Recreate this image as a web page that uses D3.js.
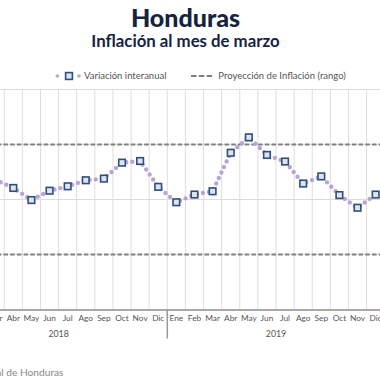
<!DOCTYPE html>
<html>
<head>
<meta charset="utf-8">
<script src="https://cdn.jsdelivr.net/npm/d3@7"></script>
<style>
  html, body { margin: 0; padding: 0; background: #fff; }
  svg { display: block; font-family: Lato, "Noto Sans", sans-serif; }
</style>
</head>
<body>
<svg id="chart" width="380" height="380"></svg>
<script>
// ---- data ----
const years = ["2018", "2019"];
const months = ["Ene","Feb","Mar","Abr","May","Jun","Jul","Ago","Sep","Oct","Nov","Dic"];
const values2018 = [null, null, 4.36, 4.21, 3.99, 4.16, 4.24, 4.35, 4.38, 4.67, 4.70, 4.23];
const values2019 = [3.95, 4.09, 4.15, 4.85, 5.13, 4.81, 4.69, 4.29, 4.42, 4.08, 3.85, 4.09];
const rangeLow = 3.0;
const rangeHigh = 5.0;
const yTicks = [2, 3, 4, 5, 6];
const titleText = "Honduras";
const subtitleText = "Inflación al mes de marzo";
const legendSeries = "Variación interanual";
const legendRange = "Proyección de Inflación (rango)";
const sourceText = "Fuente: Banco Central de Honduras";

// ---- build ----
const data = [];
years.forEach((yr, i) => {
  const vals = i === 0 ? values2018 : values2019;
  months.forEach((m, j) => data.push({ key: yr + "-" + m, year: yr, month: m, v: vals[j] }));
});

const svg = d3.select("#chart");
const x = d3.scaleBand().domain(data.map(d => d.key)).range([-50.1, 384.7]).padding(0);
const y = d3.scaleLinear().domain([2, 6]).range([309.5, 89.5]);

const plotTop = y(6), plotBottom = y(2);

// horizontal gridlines
svg.append("g").selectAll("line").data(yTicks).join("line")
  .attr("x1", x.range()[0]).attr("x2", x.range()[1])
  .attr("y1", d => y(d)).attr("y2", d => y(d))
  .attr("stroke", "#dcdcdc").attr("stroke-width", 1);

// vertical gridlines at category boundaries
const bounds = data.map(d => x(d.key)).concat([x.range()[1]]);
svg.append("g").selectAll("line").data(bounds).join("line")
  .attr("x1", d => d).attr("x2", d => d)
  .attr("y1", plotTop).attr("y2", plotBottom)
  .attr("stroke", "#dedede").attr("stroke-width", 1);

// range dashed lines
svg.append("g").selectAll("line").data([rangeLow, rangeHigh]).join("line")
  .attr("x1", x.range()[0]).attr("x2", x.range()[1])
  .attr("y1", d => y(d)).attr("y2", d => y(d))
  .attr("stroke", "#808080").attr("stroke-width", 2)
  .attr("stroke-dasharray", "4.5,2.2");

// x axis
const xAxis = d3.axisBottom(x).tickSize(0).tickPadding(6).tickFormat(k => k.split("-")[1]);
const gx = svg.append("g").attr("transform", `translate(0,${plotBottom})`).call(xAxis);
gx.select(".domain").attr("stroke", "#a8a8a8").attr("stroke-width", 2);
gx.selectAll("text").attr("fill", "#555").style("font-size", "8.3px").style("font-family", "Lato, sans-serif");

// year separators
const yearStarts = years.map(yr => x(yr + "-Ene")).concat([x.range()[1]]);
svg.append("g").selectAll("line").data(yearStarts).join("line")
  .attr("x1", d => d).attr("x2", d => d)
  .attr("y1", plotBottom).attr("y2", plotBottom + 29)
  .attr("stroke", "#999").attr("stroke-width", 1.5);

// year labels
svg.append("g").selectAll("text").data(years).join("text")
  .attr("x", yr => (x(yr + "-Ene") + x(yr + "-Dic") + x.bandwidth()) / 2)
  .attr("y", plotBottom + 27)
  .attr("text-anchor", "middle")
  .attr("fill", "#555").style("font-size", "8.8px")
  .text(d => d);

// series line (dotted)
const line = d3.line()
  .defined(d => d.v != null)
  .x(d => x(d.key) + x.bandwidth() / 2)
  .y(d => y(d.v));
svg.append("path").datum(data)
  .attr("d", line)
  .attr("fill", "none")
  .attr("stroke", "#b9a5d4")
  .attr("stroke-width", 4.4)
  .attr("stroke-linecap", "round")
  .attr("stroke-dasharray", "0,6.1");

// square markers
const sz = 6.6;
svg.append("g").selectAll("rect").data(data.filter(d => d.v != null)).join("rect")
  .attr("x", d => x(d.key) + x.bandwidth() / 2 - sz / 2)
  .attr("y", d => y(d.v) - sz / 2)
  .attr("width", sz).attr("height", sz)
  .attr("fill", "#dfe3ea")
  .attr("stroke", "#2c4f80")
  .attr("stroke-width", 1.6);

// title
svg.append("text").attr("x", 185.5).attr("y", 26.7).attr("text-anchor", "middle")
  .attr("fill", "#15233f").style("font-size", "25px").style("font-weight", "900")
  .text(titleText);
svg.append("text").attr("x", 185.5).attr("y", 46.7).attr("text-anchor", "middle")
  .attr("fill", "#15233f").style("font-size", "16.8px").style("font-weight", "bold")
  .text(subtitleText);

// legend
const ly = 76;
const lg = svg.append("g");
lg.selectAll("circle").data([57.3, 79]).join("circle")
  .attr("cx", d => d).attr("cy", ly).attr("r", 1.8).attr("fill", "#b9a5d4");
lg.append("rect").attr("x", 69 - 3.4).attr("y", ly - 3.4).attr("width", 6.8).attr("height", 6.8)
  .attr("fill", "#dfe3ea").attr("stroke", "#2c4f80").attr("stroke-width", 1.6);
lg.append("text").attr("x", 84).attr("y", ly + 3.3).attr("fill", "#555")
  .style("font-size", "9.5px").text(legendSeries);
lg.append("line").attr("x1", 191).attr("x2", 213).attr("y1", ly).attr("y2", ly)
  .attr("stroke", "#808080").attr("stroke-width", 2).attr("stroke-dasharray", "5.5,2.3");
lg.append("text").attr("x", 218.3).attr("y", ly + 3.3).attr("fill", "#555")
  .style("font-size", "9.5px").text(legendRange);

// source
svg.append("text").attr("x", 63.5).attr("y", 375.7).attr("text-anchor", "end")
  .attr("fill", "#888").style("font-size", "10.2px").text(sourceText);
</script>
</body>
</html>
